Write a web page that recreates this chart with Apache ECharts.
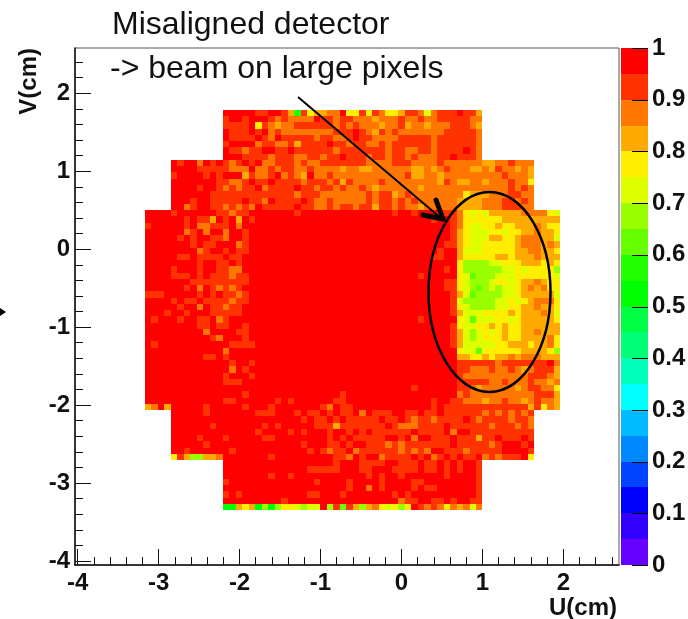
<!DOCTYPE html>
<html><head><meta charset="utf-8">
<style>html,body{margin:0;padding:0;background:#fff}#c{width:688px;height:619px}</style>
<script src="https://cdn.jsdelivr.net/npm/echarts@6/dist/echarts.min.js"></script>
</head><body><div id="c"></div>
<script>
const palette = ['#ff0000','#ff3300','#ff7700','#ffaa00','#ffee00','#ddff00','#99ff00','#66ff00','#22ff00','#00ff00',
  '#00ff44','#00ff77','#00ffbb','#00ffff','#00bbff','#0088ff','#0044ff','#0000ff','#3300ff','#6600ff'];
const binValues = [0.975,0.925,0.875,0.825,0.775,0.725,0.675,0.625,0.575,0.525,0.475,0.425,0.375,0.325,0.275,0.225,0.175,0.125,0.075,0.025];
const majorU = [-4,-3,-2,-1,0,1,2];
const minorU = [-3.8,-3.6,-3.4,-3.2,-2.8,-2.6,-2.4,-2.2,-1.8,-1.6,-1.4,-1.2,-0.8,-0.6,-0.4,-0.2,0.2,0.4,0.6,0.8,1.2,1.4,1.6,1.8,2.2,2.4,2.6];
const majorV = [-4,-3,-2,-1,0,1,2];
const minorV = [-3.8,-3.6,-3.4,-3.2,-2.8,-2.6,-2.4,-2.2,-1.8,-1.6,-1.4,-1.2,-0.8,-0.6,-0.4,-0.2,0.2,0.4,0.6,0.8,1.2,1.4,1.6,1.8,2.2,2.4];
const scaleTicks = [0,0.1,0.2,0.3,0.4,0.5,0.6,0.7,0.8,0.9,1];
const firstU = -3.169, firstV = 1.786, binSize = 0.0802;
// Each row: colour-bin index per pixel, left part (64 columns split at column 33); "." = empty
const leftRows = [
"............ 00000 11 00 1 3 8 1 4 3 3 22 0 44",
"............ 1 00 1 000 1 2 1 2222 0 11 2 11 2",
"............ 1111 0 4 1 2 3 22 111111 2 1 2 1",
"............ 0 111 0 1 0 2 1 22222222 1 11 0",
"............ 0 111 1 0 1 2 0 11111 2 11 22 1 0",
"............ 1 0000 2 11 22 1 3 1111 0 11 2 1",
"............ 0 11 2 11 00 11 0 111111 2 111",
"............ 000 1111 2 111 22 11 2 11 0 11",
".... 0 1 00 2 0 1 0 1 2 1 0 1 0 22 111 2 1 22 11111 1",
".... 0000 11111 222 0 22 1 2 11 22 1 2 2 22 3 22",
".... 1 0000 1 0 1 000 3 1 22 1 0 2 1 2 3 0 22 1 2 222",
".... 0000000 11 22 1 0 11 0 1111 2 111 2 1 3 1 2",
".... 0000 1 00 1 2 1 2 11 0 2 1111 0 11 2 11 2 1 22",
".... 000000 1111111111111 2 111 222222",
".... 000 1 00 11111 0 11 2 0 1111 0 1 22 1 2222",
".... 00 2 1 00 11 2 1 2 1 2 0 11111 0 11 22 1 2 11 2",
"0000 1 000000 1 1 2 1 1 0 000000 1 000000000",
"000000 1 0 11 3 0 1 0 3 0 1 0000000000000000",
"1 00000 1 0 22 111 0 2 000000000000000000",
"000000 2 1 0 2 00 2 00 1 00000000000000000",
"00000 1 0 1 00 11 2 00 1 00000000000000000",
"0000000 1 0 11 000 2 1 00000000000000000",
"00000000 2 1 00 1 0 11 00000000000000000",
"00000 11 0 1111 0 11 0 00000000000000000",
"00000000 1 00 11 0 1 0 00000000000000000",
"0000 1 000 1 00 11 22 0 00000000000000000",
"0000 111 0 1 0 1 11 2 11 00000000000000000",
"0000000 111111111 00000000000000000",
"000000 1 0 2 0 1 2 1 2 1 0 00000000000000000",
"111 00000 1 0 1 0 11 2 1 00000000000000000",
"0000 1 0 11 0 1111 2 11 00000000000000000",
"00000 1 00 2 0 11 2 11 0 00000000000000000",
"000 1 00 1 000 11111 0 00000000000000000",
"0 1 000 1 00 11 0 2 1 0000 0000000000000000",
"00000000 11 0 11 00 1 0 0000000000000000",
"000000000 2 0000 11 0 0000000000000000",
"0000000000 1 2 000 1 0 0000000000000000",
"0 1 00000000000 1111 0000000000000000",
"000000000000 2 0000 0000000000000000",
"000000000 11 0 1 0000 0000000000000000",
"0000000000000 1 00 1 0000000000000000",
"0000000000000 2 0 1 0 0000000000000000",
"000000000000 1 000 1 0000000000000000",
"000000000000 111 00 0000000000000000",
"000000000000000000000000000000000",
"000000000000000 1 00000000000000 1 00",
"000000000000 11 000000 1 0 1 000000 11 00",
"3 2 0 3 00000 1 00000 1 000 1 0000000 1 2 0 11 0",
".... 00000 1 0000000 111 000 1 0 11 0 1 0 11 0",
".... 00000000000000000000 1 0 11 0 1 0 11",
".... 000000 1 0000000 1 0 1 00000 111 3 111",
".... 0000000000000 1 0000 1 0 1 000 1 00 1 0",
".... 0000 1 000 1 00000 11 00000000 1 0 1 0 1",
".... 00000 1 00000000000000 1 000 11 0 1 0",
".... 00 1 000000 1 00000000000 1 0 1 2 11 0 2",
".... 4 1 3 66 33 2 0000000 1 000000000 11 2 0",
"............ 00000000000000000 1 000",
"............ 0000000000000 11111 000",
"............ 0000000 1 00 1 0000000000",
"............ 1 0000000000000 1 0000 1 0",
"............ 0000000000000000000 1 0",
"............ 1 0 1 0000000000 11 000 1 00",
"............ 000000000 1 00000000000",
"............ 99 3 4 3 9 6 9 6 44 5 6 55 0 6 1 7 1 3"
];
const rightRows = [
"1 4 1 2 44 3 11 2 5 2 111 0 11 3 ............",
"2 2 3 2 2 2 1 2 2 1 2 2 1 1 1 1 1 2 2 ............",
"2 2 2 3 2 2 1 3 2 2 3 2 2 2 1 1 1 2 3 ............",
"1 2 3 1 2 1 2222222 11111 2 ............",
"1 1 2 2 2 2 11111 2 111111 2 ............",
"1 2 2 1 2 1 11111 2 111111 2 ............",
"1 1 1 1 2 1 1 2 2 1 1 2 1 1 1 1 0 1 2 ............",
"1 2 1 1 2 1 1 2 1 2 2 2 1 1 0 1 1 1 2 ............",
"1 2222 1 11 2222 1 222222 33 22 1 222 ....",
"3 3 2 2 2 2 2 2 3 3 2 3 2 1 2 2 2 3 3 2 3 1 2 2 3 2 3 ....",
"2222222 1 33 22 3 22222222 2 1 222 3 ....",
"222 1 222222223 1 2 33 22 3 222 1 22 4 ....",
"1 2 3 2 2 2 2 2 2 3 2 2 2 2 2 2 2 2 2 2 2 2 2 1 2 1 2 ....",
"2 1 2 1 1 3 2 1 2 2 2 2 2 2 2 2 4 3 3 3 2 2 2 1 1 2 2 ....",
"2 1 2 1 1 2 1 2 1 2 2 2 2 2 2 3 3 3 3 2 2 2 1 1 2 1 2 ....",
"1 1 3 1 1 2 1 2 2 3 2 2 2 2 2 3 3 3 3 2 2 2 1 1 1 2 2 ....",
"00000 1 00 1 000 111 2 4 5 4 5 33333 2222 4 5",
"00000000000 1 00 1 2 444444 333 3 333 3 3",
"00000000000000 1 2 4 55 44 3 44 3 33 2 3 44",
"00000000000000 1 3 4 555 44 5 4 4 33 2 3 3 4",
"00000000000000 1 3 4 555 33 44 3 222 3 3 5",
"0000000000000 1 1 3 4 55 44444 3 222 3 2 3",
"000000000000 1 00 3 5 55 44444 33 22 3 3 4",
"00000000000 11 00 3 44444 33 4 333 2 333",
"000000000000000 4 6666 55 4 4 4 3 33 4 3 4",
"0000000000000 1 0 4 666666 55 4 5 44 4 4 6",
"000000000 1 00000 4 5 7 666 5 55 4 44444 5",
"0000000000000 11 4 5 666 5 44 5 4 33 2 3 44",
"0000000000000 11 4 5 6 7 6 5 6 55 4 3 2 3 2 44",
"00000000000000 1 3 5 7 666 6 55 4 333 3 3 5",
"00000000000000 1 5 6 6666 5 5 4 5 4 3 2 2 2 4",
"00000000000000 1 4 5 6666 55 4 4 3 3 2 3 3 4",
"00000000000000 1 3 555 4444 3 4 333 2 3 5",
"000000000 1 00000 4 5 7 55 5 44 5 4 333 3 3 4",
"00000000000000 1 4 5 5 44 3 4 3 4 4 333 3 33",
"00000000000000 1 3 5 6 5 4 5 4 3 44 33 2 3 3 3",
"00000000000000 1 3 5 6 5 44 4 3 44 333 3 2 4",
"00000000000000 1 3 5 5 555 4 4 33 3 4 3 3 2 4",
"000000000000000 4 55 7 4444 44 333 3 4 6",
"000000000000000 3 3 4 4 3 4 3 3 2 3 2 2 2 3 3 3",
"000000000000000 1 1 1 1 1 1 2 1 1 1 1 1 1 1 0 2",
"000000000000000 1 1 2 2 2 1 2 2 1 2 3 2 1 1 1 3",
"000000000000000 1 2 22222 2222 111 2 3",
"000000000000000 1 1 1 1 1 2 2 1 2 2 2 1 2 2 3 2",
"00000000 1 000000 1 1 2 3 2 2 2 2 2 3 2 1 1 2 2 4",
"000000000000000 2 1 2 2 2 2 2 2 2 2 2 2 1 1 1 3",
"00000000000 1 00 1 1 2 2 2 3 2 2 1 2 2 3 2 1 2 2 3",
"00000000000 1 0 1 111111111111 3 1 4 2 3",
"2 0 111 00 11 0 11 0 1 1 1111 2 1 2 1 2 1 2 1 ....",
"1 1 1 0 1 1 0 1 2 1 1 2 1 1 1 1 0 1 2 1 1 1 1 2 1 1 2 ....",
"1111 0 1 222 1111 0 111111 2 111 2 1 2 ....",
"1 0 111111 0 1111 0 2 00 1111111111 ....",
"1111 00 1 0 2 00 111 0 11 1 3 11 0 111 0 1 ....",
"0 111 2 1 2 1111111 0 11111 2 1 000 1 0 ....",
"111111 2 1 2 1 2 00 111 2 11111 000 0 1 ....",
"1 00 2 1111 0 1 0 2 1 0 1 0 11 0 2 1 2 111 0 4 ....",
"1111 00 111 0 11 0 1 0 1 00 1 ............",
"11 000 1111 0 11 0 1 0 1 00 1 ............",
"0 1 0 1 00 1 000000 1 0000 1 ............",
"000 1 0000 11 00000000 1 ............",
"0 2 0 1 0000 1 0 11 000000 1 ............",
"00000 1 0 1 0000000000 1 ............",
"000000 2 11 00 11 0 1 00 1 1 ............",
"6 3 2 4 5 4 6 4 0 1 2 1 2 4 2 3 2 5 2 ............"
];
const cells = [];
leftRows.forEach((l, j) => {
  const left = l.replace(/ /g, '').padEnd(33, '0').slice(0, 33);
  const right = rightRows[j].replace(/ /g, '').padEnd(31, '.').slice(0, 31);
  const row = left + right;
  for (let i = 0; i < row.length; i++) {
    if (row[i] === '.') continue;
    cells.push([firstU + i * binSize, firstV - j * binSize, binValues[+row[i]]]);
  }
});
const colorOf = v => palette[Math.min(19, Math.floor((1 - v) / 0.05))];
const renderCell = (params, api) => {
  const u = api.value(0), v = api.value(1);
  const a = api.coord([u, v]), b = api.coord([u + binSize, v - binSize]);
  const x = Math.round(a[0]), y = Math.round(a[1]);
  return {type: 'rect', shape: {x, y, width: Math.round(b[0]) - x, height: Math.round(b[1]) - y},
    style: {fill: colorOf(api.value(2))}};
};
const renderBar = (params, api) => {
  const val = api.value(0);
  const a = api.coord([0, val + 0.025]), b = api.coord([1, val - 0.025]);
  const y = Math.round(a[1]);
  return {type: 'rect', shape: {x: a[0], y, width: b[0] - a[0], height: Math.round(b[1]) - y},
    style: {fill: colorOf(val)}};
};
const renderBarTick = (params, api) => {
  const val = api.value(0);
  const a = api.coord([0.41, val]), b = api.coord([1, val]);
  const y = Math.round(a[1]) + 0.5;
  return {type: 'line', shape: {x1: a[0], y1: y, x2: b[0], y2: y}, style: {stroke: '#000', lineWidth: 1}};
};
const labelFont = {fontFamily: 'Liberation Sans', fontWeight: 'bold', fontSize: 24, color: '#111'};
const tickLine = {color: '#111', width: 1};
const chart = echarts.init(document.getElementById('c'), null, {renderer: 'canvas'});
chart.setOption({
  animation: false,
  backgroundColor: '#fff',
  grid: [
    {left: 75, right: 69, top: 48, bottom: 54, show: true, borderColor: '#555', borderWidth: 1, backgroundColor: '#fff', outerBoundsMode: 'none'},
    {left: 621, right: 40, top: 48, bottom: 54, show: false, outerBoundsMode: 'none'}
  ],
  xAxis: [
    {type: 'value', gridIndex: 0, min: -4.033, max: 2.688, position: 'bottom',
     name: 'U(cm)', nameLocation: 'end', nameGap: 0,
     nameTextStyle: {fontFamily: 'Liberation Sans', fontWeight: 'bold', fontSize: 24, color: '#111', align: 'right', verticalAlign: 'top', padding: [31, 2, 0, 0]},
     splitLine: {show: false},
     axisLine: {show: true, onZero: false, lineStyle: {color: '#111', width: 1.5}},
     axisTick: {show: true, inside: true, length: 16, lineStyle: tickLine, customValues: majorU},
     axisLabel: {...labelFont, margin: 6, customValues: majorU}},
    {type: 'value', gridIndex: 0, min: -4.033, max: 2.688, position: 'bottom',
     splitLine: {show: false},
     axisLine: {show: false, onZero: false},
     axisTick: {show: true, inside: true, length: 8, lineStyle: tickLine, customValues: minorU},
     axisLabel: {show: false}},
    {type: 'value', gridIndex: 1, min: 0, max: 1, show: false}
  ],
  yAxis: [
    {type: 'value', gridIndex: 0, min: -4.051, max: 2.581, position: 'left',
     name: 'V(cm)', nameLocation: 'end', nameRotate: 90, nameGap: 0,
     nameTextStyle: {fontFamily: 'Liberation Sans', fontWeight: 'bold', fontSize: 24, color: '#111', align: 'right', verticalAlign: 'bottom', padding: [0, 0, 34, 0]},
     splitLine: {show: false},
     axisLine: {show: true, onZero: false, lineStyle: {color: '#111', width: 1.5}},
     axisTick: {show: true, inside: true, length: 16, lineStyle: tickLine, customValues: majorV},
     axisLabel: {...labelFont, margin: 5, customValues: majorV}},
    {type: 'value', gridIndex: 0, min: -4.051, max: 2.581, position: 'left',
     splitLine: {show: false},
     axisLine: {show: false, onZero: false},
     axisTick: {show: true, inside: true, length: 8, lineStyle: tickLine, customValues: minorV},
     axisLabel: {show: false}},
    {type: 'value', gridIndex: 1, min: 0, max: 1, position: 'right',
     splitLine: {show: false},
     axisLine: {show: false, onZero: false},
     axisTick: {show: false},
     axisLabel: {...labelFont, margin: 4, customValues: scaleTicks}}
  ],
  series: [
    {type: 'custom', name: 'efficiency', xAxisIndex: 0, yAxisIndex: 0, data: cells, renderItem: renderCell,
     encode: {x: 0, y: 1}, silent: true, z: 1},
    {type: 'custom', name: 'scale', xAxisIndex: 2, yAxisIndex: 2, data: binValues.map(v => [v]), renderItem: renderBar,
     encode: {y: 0}, silent: true, z: 1},
    {type: 'custom', name: 'scale ticks', xAxisIndex: 2, yAxisIndex: 2, data: scaleTicks.map(v => [v]), renderItem: renderBarTick,
     encode: {y: 0}, silent: true, z: 3, clip: false}
  ],
  graphic: [
    {type: 'text', left: 112, top: 9, z: 50, style: {text: 'Misaligned detector', fontFamily: 'Liberation Sans', fontSize: 32, fill: '#111'}},
    {type: 'text', left: 110, top: 53, z: 50, style: {text: '-> beam on large pixels', fontFamily: 'Liberation Sans', fontSize: 32, fill: '#111'}},
    {type: 'ellipse', z: 50, shape: {cx: 489.5, cy: 292, rx: 61, ry: 100}, style: {fill: 'none', stroke: '#000', lineWidth: 2.5}},
    {type: 'line', z: 50, shape: {x1: 298, y1: 97, x2: 442, y2: 219}, style: {stroke: '#000', lineWidth: 2}},
    {type: 'line', z: 50, shape: {x1: 436, y1: 200, x2: 443, y2: 219}, style: {stroke: '#000', lineWidth: 5, lineCap: 'round'}},
    {type: 'line', z: 50, shape: {x1: 423, y1: 215, x2: 443, y2: 219}, style: {stroke: '#000', lineWidth: 5, lineCap: 'round'}},
    {type: 'polygon', z: 50, shape: {points: [[0, 308], [6, 312], [0, 316]]}, style: {fill: '#000'}}
  ]
});
</script></body></html>
